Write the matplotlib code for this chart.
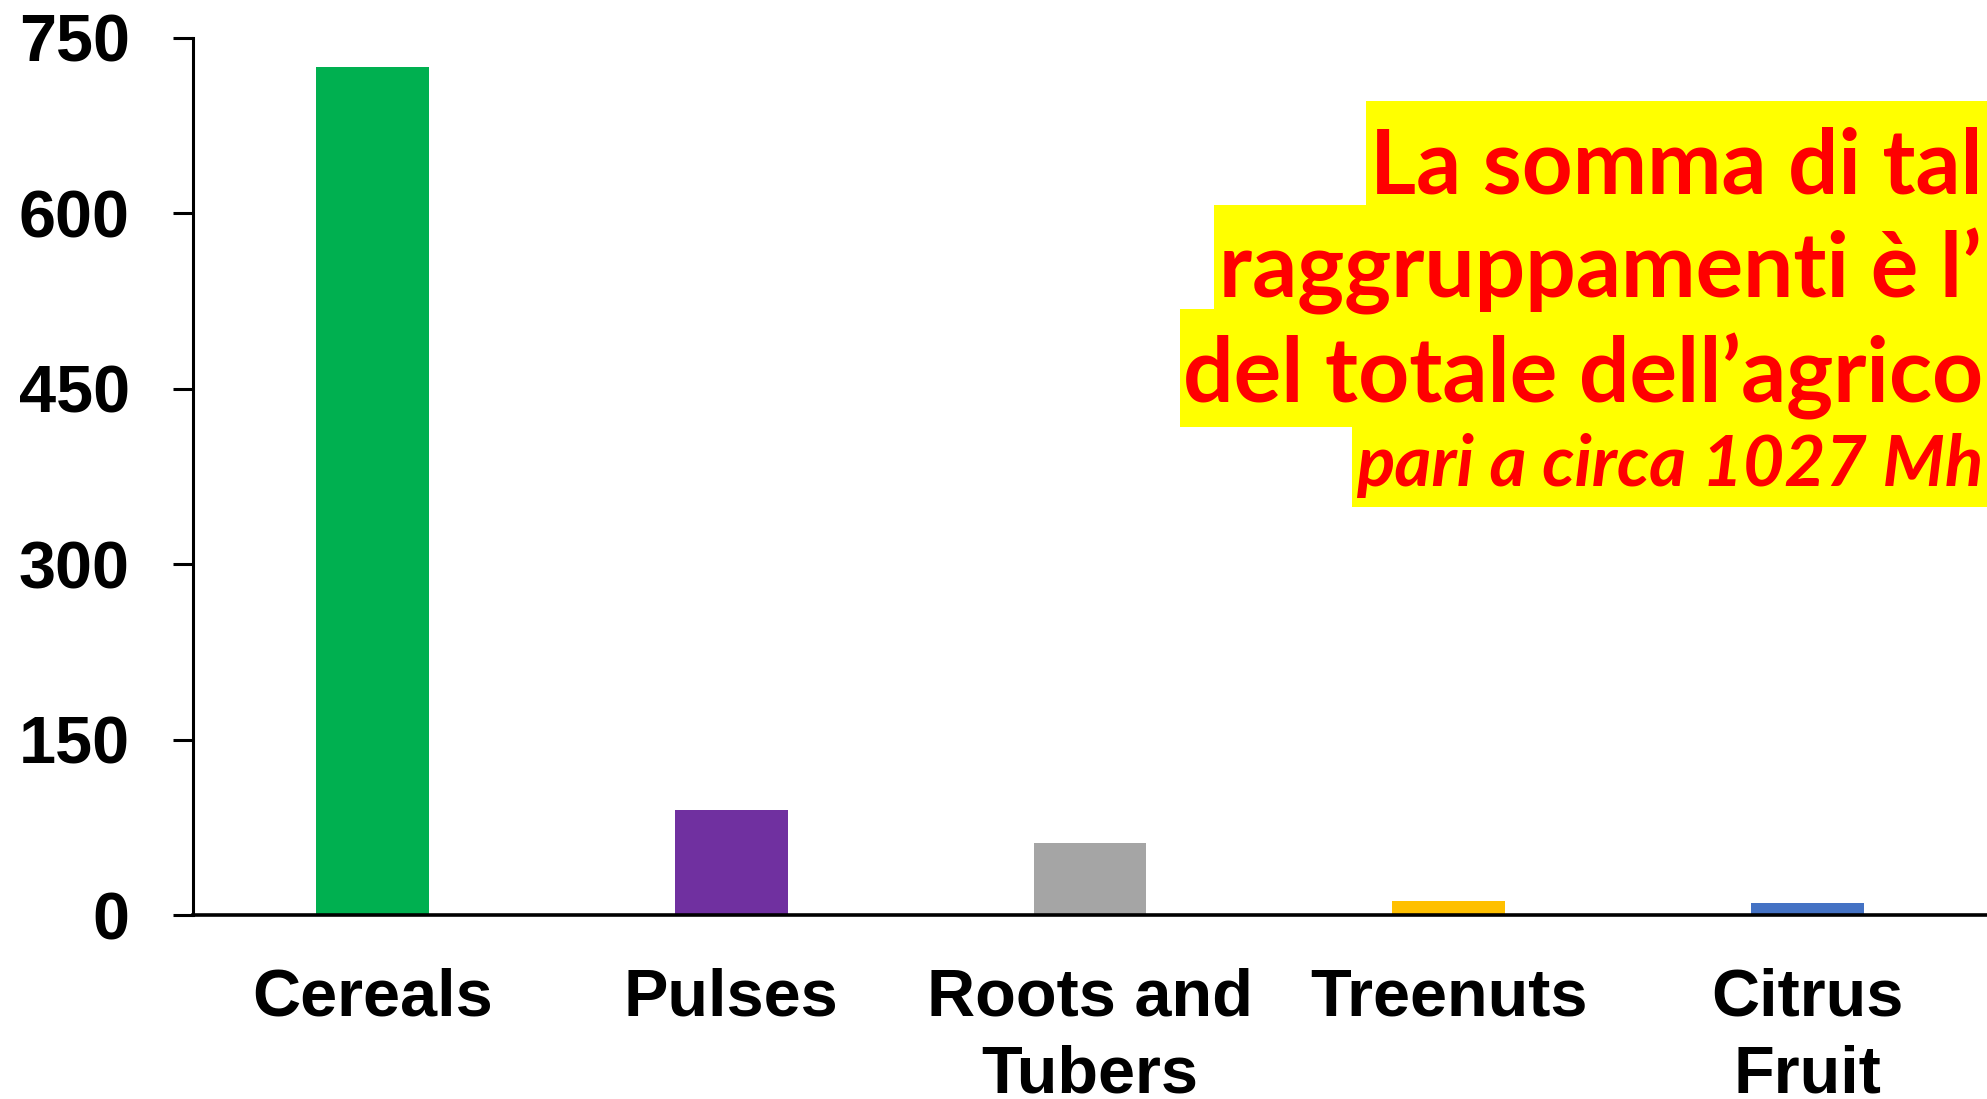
import numpy as np
import matplotlib
matplotlib.use("Agg")
import matplotlib.pyplot as plt
from matplotlib.patches import Rectangle


"""
DATI
"""
# categorie (asse x)
categorie = ["Cereals", "Pulses", "Roots and\nTubers", "Treenuts", "Citrus\nFruit"]
# superficie [Mha]
superficie = [725, 90, 62, 12, 10]
# colori barre
colori = ["#00B050", "#7030A0", "#A5A5A5", "#FFC000", "#4472C4"]
# tick asse y
tick_y = [0, 150, 300, 450, 600, 750]
# testo evidenziato (solo la parte visibile)
righe_testo = ["La somma di tal",
               "raggruppamenti è l’",
               "del totale dell’agrico",
               "pari a circa 1027 Mh"]


"""
FIGURA
"""
W, H = 1987, 1099
fig = plt.figure(figsize=(W/100, H/100), dpi=100)
ax = fig.add_axes([193/W, 1-915/H, 1-193/W, (915-38)/H])
ax.patch.set_visible(False)

x = np.arange(len(categorie))
ax.bar(x, superficie, width=0.314, color=colori, zorder=2)

ax.set_xlim(-0.5, 4.5)
ax.set_ylim(0, 750)
ax.set_yticks(tick_y)
ax.set_xticks(x)
ax.set_xticklabels(categorie, fontfamily="Liberation Sans", fontweight="bold",
                   fontsize=48, multialignment="center", linespacing=1.3)
ax.set_yticklabels([str(v) for v in tick_y], fontfamily="Liberation Sans",
                   fontweight="bold", fontsize=48)

# assi
for s in ["top", "right"]:
    ax.spines[s].set_visible(False)
ax.spines["left"].set_linewidth(2.2)
ax.spines["bottom"].set_linewidth(2.6)
ax.spines["bottom"].set_zorder(3)
ax.tick_params(axis="y", length=14.5, width=2.2, pad=31, direction="out")
ax.tick_params(axis="x", length=0, pad=38)


"""
RIQUADRI GIALLI + TESTO
"""
# riquadri (px: x sinistra, y alto, y basso)
riquadri = [(1366, 101, 205), (1214, 205, 309), (1180, 309, 427), (1352, 427, 507)]
for xs, yt, yb in riquadri:
    fig.add_artist(Rectangle((xs/W, 1-yb/H), 1-xs/W, (yb-yt)/H,
                             transform=fig.transFigure, facecolor="#FFFF00",
                             edgecolor="none", zorder=-1))

# posizione testo (px: x sinistra, linea base, larghezza visibile)
pos_testo = [(1370, 193, 612), (1219, 297, 764), (1183, 402, 800), (1356, 486, 628)]
testi = []
for i, (riga, (xs, yb, larg)) in enumerate(zip(righe_testo, pos_testo)):
    t = fig.text(xs/W, 1-yb/H, riga, color="#FF0000", fontfamily="Lato",
                 fontweight="bold", fontstyle="italic" if i == 3 else "normal",
                 fontsize=60, ha="left", va="baseline", zorder=5)
    testi.append((t, larg))

# adatta dimensione carattere alla larghezza visibile
fig.canvas.draw()
r = fig.canvas.get_renderer()
for t, larg in testi:
    w = t.get_window_extent(r).width
    t.set_fontsize(t.get_fontsize() * larg / w)

fig.savefig("out.png", dpi=100)
